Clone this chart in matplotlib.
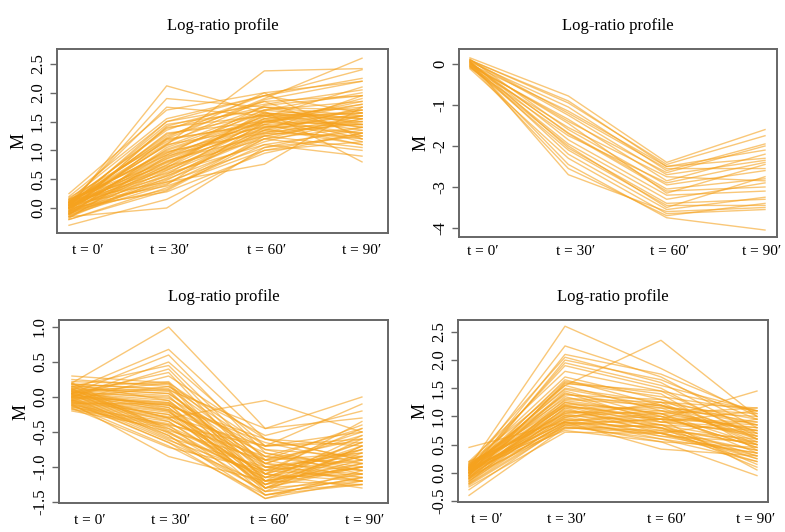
import matplotlib
matplotlib.use("Agg")
import matplotlib.pyplot as plt
import numpy as np

plt.rcParams['font.family'] = ['Liberation Serif', 'DejaVu Serif']

# time points and their labels
times = [1, 2, 3, 4]
time_labels = ["t = 0′", "t = 30′", "t = 60′", "t = 90′"]

# cluster 1: rising profiles (M at t=0,30,60,90)
profiles_a = [
    [0.00, 2.12, 1.65, 1.55], [0.05, 1.90, 1.75, 1.45], [0.10, 1.75, 1.60, 1.20],
    [0.25, 1.70, 2.00, 2.20], [0.00, 1.10, 2.38, 2.42], [0.10, 1.20, 1.90, 2.60],
    [-0.10, 0.45, 0.76, 1.75], [-0.15, 0.00, 1.05, 1.40], [-0.30, 0.15, 1.00, 1.30],
    [-0.20, 0.30, 1.20, 1.00], [0.20, 1.55, 1.95, 2.40], [0.15, 1.50, 1.80, 2.05],
    [0.05, 1.45, 1.70, 1.85], [-0.05, 1.40, 1.60, 1.65], [0.12, 1.35, 1.95, 2.25],
    [0.00, 1.30, 1.50, 1.30], [0.08, 1.25, 1.85, 1.95], [-0.08, 1.20, 1.45, 1.10],
    [0.18, 1.15, 1.75, 1.70], [0.02, 1.10, 1.40, 1.60], [-0.12, 1.05, 1.65, 1.50],
    [0.06, 1.00, 1.55, 1.80], [0.10, 0.98, 1.30, 1.25], [-0.02, 0.95, 1.70, 2.00],
    [0.14, 0.92, 1.50, 1.45], [-0.18, 0.90, 1.35, 1.65], [0.04, 0.88, 1.60, 1.35],
    [0.00, 0.85, 1.45, 1.90], [-0.06, 0.82, 1.25, 1.55], [0.16, 0.80, 1.55, 1.15],
    [0.03, 0.78, 1.40, 1.70], [-0.10, 0.75, 1.65, 1.40], [0.07, 0.72, 1.20, 1.60],
    [-0.04, 0.70, 1.50, 1.85], [0.11, 0.68, 1.35, 1.20], [-0.14, 0.65, 1.45, 1.50],
    [0.00, 0.62, 1.30, 1.75], [0.09, 0.60, 1.10, 1.35], [-0.07, 0.58, 1.55, 1.65],
    [0.05, 0.55, 1.25, 1.05], [-0.16, 0.52, 1.40, 1.45], [0.02, 0.50, 1.15, 1.55],
    [-0.09, 0.48, 1.35, 1.95], [0.13, 0.45, 1.05, 1.25], [-0.03, 0.42, 1.20, 1.40],
    [-0.12, 0.40, 1.50, 1.70], [0.06, 0.38, 1.00, 1.15], [-0.20, 0.35, 1.10, 0.90],
    [-0.05, 0.32, 1.25, 1.50], [0.00, 0.28, 0.95, 1.30], [0.10, 1.38, 1.75, 1.60],
    [0.04, 1.28, 1.62, 1.40], [-0.02, 1.18, 1.48, 1.80], [0.08, 1.08, 1.70, 1.55],
    [-0.10, 1.02, 1.58, 2.10], [0.12, 0.96, 1.42, 1.30], [0.00, 0.86, 1.52, 1.60],
    [-0.08, 0.80, 1.38, 1.10], [0.15, 0.74, 1.62, 1.75], [0.05, 0.66, 1.32, 1.45],
    [-0.15, 0.56, 1.28, 1.60], [0.03, 1.50, 1.95, 1.65], [-0.06, 1.42, 1.85, 1.25],
    [0.09, 1.12, 1.88, 2.20], [0.01, 0.92, 1.78, 1.95], [-0.11, 0.70, 1.68, 0.80],
    [0.07, 1.22, 2.00, 1.20],
]

# cluster 2: strongly falling profiles
profiles_b = [
    [0.15, -0.78, -2.40, -1.60], [0.10, -0.95, -2.45, -1.75], [0.05, -1.05, -2.60, -1.95],
    [0.00, -1.15, -2.50, -2.10], [0.08, -1.25, -2.70, -2.35], [-0.05, -1.35, -2.85, -2.20],
    [0.02, -1.45, -3.15, -2.45], [-0.08, -1.55, -2.75, -2.85], [0.12, -1.60, -2.95, -2.60],
    [0.00, -1.68, -3.05, -2.80], [-0.10, -1.75, -2.90, -2.40], [0.05, -1.85, -3.20, -3.10],
    [-0.03, -1.95, -3.30, -2.90], [0.07, -2.05, -3.40, -3.30], [-0.06, -2.10, -3.45, -3.45],
    [0.03, -2.20, -3.55, -3.25], [-0.12, -2.30, -3.65, -3.55], [0.00, -2.45, -3.75, -4.05],
    [-0.04, -2.55, -3.70, -3.40], [0.06, -2.70, -3.60, -3.50], [0.10, -1.20, -2.55, -2.55],
    [-0.02, -1.40, -2.65, -2.00], [0.04, -1.70, -3.10, -3.00], [-0.07, -2.00, -3.50, -2.75],
    [0.09, -0.90, -2.50, -2.30],
]

# cluster 3: mildly falling profiles
profiles_c = [
    [0.20, 1.00, -0.45, -0.30], [0.10, 0.68, -0.60, -0.70], [0.05, 0.60, -0.80, -1.00],
    [0.00, 0.50, -0.70, -0.50], [0.15, 0.45, -0.90, -0.80], [0.00, 0.40, -1.00, -1.10],
    [-0.05, 0.30, -0.60, -0.90], [0.05, -0.30, -0.05, -0.50], [0.10, 0.10, -0.45, 0.00],
    [-0.10, -0.85, -1.20, -1.00], [0.30, 0.20, -0.70, -0.10], [0.25, 0.15, -0.55, -0.20],
    [0.22, 0.18, -1.30, -1.20], [0.18, 0.12, -0.85, -0.45], [0.15, 0.08, -1.10, -0.75],
    [0.12, 0.05, -0.95, -1.05], [0.10, 0.02, -1.25, -0.60], [0.08, -0.02, -0.75, -0.85],
    [0.06, -0.05, -1.05, -1.15], [0.05, -0.08, -0.90, -0.40], [0.03, -0.10, -1.35, -1.25],
    [0.02, -0.12, -0.65, -0.95], [0.00, -0.15, -1.15, -0.70], [-0.02, -0.18, -0.80, -1.10],
    [-0.04, -0.20, -1.20, -0.55], [-0.05, -0.22, -1.00, -0.80], [-0.07, -0.25, -1.30, -1.00],
    [-0.08, -0.28, -0.70, -0.65], [-0.10, -0.30, -1.10, -1.20], [-0.12, -0.32, -0.95, -0.50],
    [-0.14, -0.35, -1.25, -0.90], [-0.15, -0.38, -0.85, -1.05], [-0.17, -0.40, -1.40, -1.15],
    [-0.18, -0.42, -1.05, -0.75], [-0.20, -0.45, -1.20, -1.25], [0.20, -0.48, -0.90, -0.60],
    [0.16, -0.50, -1.30, -0.95], [0.12, -0.52, -1.15, -1.10], [0.08, -0.55, -1.45, -1.20],
    [0.04, -0.58, -1.00, -0.85], [0.00, -0.60, -1.35, -0.70], [-0.04, -0.62, -1.10, -1.30],
    [-0.08, -0.65, -1.25, -1.00], [-0.12, -0.70, -1.40, -1.15], [-0.16, -0.72, -1.05, -0.90],
    [0.14, 0.22, -0.95, -0.55], [0.06, 0.20, -1.20, -0.85], [-0.02, 0.15, -0.75, -1.05],
    [0.18, -0.05, -1.15, -0.65], [0.09, -0.15, -1.30, -0.80], [-0.06, -0.25, -0.90, -1.15],
    [0.01, -0.35, -1.20, -0.95], [0.11, -0.45, -1.05, -0.45], [-0.03, -0.55, -1.35, -1.10],
    [0.07, 0.00, -1.00, -1.20], [-0.09, -0.10, -1.25, -0.75], [0.13, 0.05, -0.85, -0.95],
    [0.04, -0.20, -1.40, -1.25], [-0.11, -0.40, -0.70, -0.60], [0.02, -0.30, -1.10, -0.35],
    [0.19, 0.10, -1.20, -1.00], [-0.01, -0.08, -0.95, -1.20], [0.08, -0.18, -1.30, -0.70],
    [-0.13, -0.50, -1.15, -0.85], [0.05, 0.35, -1.10, -0.65], [-0.06, -0.65, -1.45, -1.05],
    [0.03, -0.12, -0.60, -0.90],
]

# cluster 4: transient peak at t=30
profiles_d = [
    [0.10, 2.60, 1.85, 1.00], [0.05, 2.25, 1.70, 0.80], [0.00, 2.10, 1.75, 1.05],
    [0.15, 2.05, 1.60, 0.70], [-0.05, 2.00, 1.65, 0.95], [0.08, 1.90, 1.50, 0.60],
    [0.00, 1.55, 2.35, 1.00], [0.10, 1.20, 0.95, 1.45], [0.45, 0.90, 0.80, 0.50],
    [-0.40, 0.80, 0.70, 0.40], [-0.20, 0.85, 0.55, -0.05], [0.05, 0.90, 0.42, 0.30],
    [0.20, 1.80, 1.45, 1.10], [0.12, 1.70, 1.30, 0.85], [0.00, 1.65, 1.20, 0.55],
    [-0.10, 1.60, 1.35, 1.10], [0.18, 1.55, 1.10, 0.75], [0.06, 1.50, 1.25, 0.95],
    [-0.05, 1.45, 1.00, 0.45], [0.14, 1.40, 1.15, 1.05], [0.02, 1.35, 0.95, 0.65],
    [-0.12, 1.30, 1.20, 0.85], [0.10, 1.28, 1.05, 0.35], [-0.02, 1.25, 0.90, 0.70],
    [0.16, 1.22, 1.10, 1.00], [-0.08, 1.20, 0.85, 0.55], [0.04, 1.18, 1.00, 0.80],
    [-0.15, 1.15, 1.15, 0.60], [0.08, 1.12, 0.80, 0.25], [0.00, 1.10, 0.95, 0.90],
    [-0.18, 1.08, 1.05, 0.50], [0.12, 1.05, 0.75, 0.40], [-0.06, 1.02, 0.90, 1.10],
    [0.03, 1.00, 1.10, 0.65], [-0.10, 0.98, 0.70, 0.20], [0.20, 0.95, 0.85, 0.75],
    [-0.03, 0.92, 1.00, 0.45], [0.07, 0.90, 0.65, 0.55], [-0.14, 0.88, 0.80, 0.10],
    [0.01, 0.85, 0.95, 0.85], [-0.22, 0.82, 0.60, 0.35], [0.09, 0.80, 0.75, 0.60],
    [-0.07, 0.78, 0.85, 0.15], [0.05, 0.75, 0.55, 0.45], [-0.25, 0.72, 0.70, 0.30],
    [0.13, 1.32, 1.25, 0.50], [-0.04, 1.42, 0.90, 0.80], [0.06, 1.62, 1.40, 0.40],
    [-0.09, 1.15, 0.70, 0.95], [0.17, 1.05, 1.20, 0.70], [0.00, 0.95, 0.60, 0.20],
    [-0.16, 1.25, 1.05, 1.15], [0.11, 1.38, 1.30, 0.60], [-0.01, 1.08, 0.85, 0.30],
    [0.04, 0.98, 1.25, 1.15], [-0.11, 0.88, 0.95, 0.05], [0.09, 1.48, 1.18, 0.90],
    [-0.05, 1.58, 1.45, 0.65], [0.02, 1.95, 1.55, 1.10], [0.14, 1.02, 0.65, 0.35],
    [-0.19, 0.92, 1.05, 0.75], [0.07, 1.18, 0.78, 0.50], [-0.30, 0.85, 0.72, 0.25],
]

W, H = 785, 532
fig = plt.figure(figsize=(W / 100, H / 100), dpi=100)

# (profiles, box in pixels l,r,t,b, xlim, ylim, yticks, ytick labels, x label positions, x label pad)
panels = [
    (profiles_a, (57, 388, 49, 233), (0.877, 4.266), (-0.434, 2.76),
     [0, 0.5, 1, 1.5, 2, 2.5], ["0.0", "0.5", "1.0", "1.5", "2.0", "2.5"],
     [1.19, 2.03, 3.02, 4.0], 8),
    (profiles_b, (459, 777, 49, 237), (0.888, 4.122), (-4.22, 0.366),
     [-4, -3, -2, -1, 0], ["-4", "-3", "-2", "-1", "0"],
     [1.13, 2.07, 3.03, 3.97], 6),
    (profiles_c, (59, 388, 320, 503), (0.866, 4.27), (-1.514, 1.1),
     [-1.5, -1, -0.5, 0, 0.5, 1], ["-1.5", "-1.0", "-0.5", "0.0", "0.5", "1.0"],
     [1.18, 2.02, 3.05, 4.03], 8),
    (profiles_d, (458, 768, 320, 502), (0.885, 4.115), (-0.518, 2.71),
     [-0.5, 0, 0.5, 1, 1.5, 2, 2.5], ["-0.5", "0.0", "0.5", "1.0", "1.5", "2.0", "2.5"],
     [1.19, 2.02, 3.06, 3.99], 8),
]

for profs, (l, r, t, b), xl, yl, yt, ytl, xpos, xpad in panels:
    ax = fig.add_axes([l / W, 1 - b / H, (r - l) / W, (b - t) / H])
    for row in profs:
        ax.plot(times, row, color="#F5A21E", alpha=0.6, lw=1.0)
    ax.set_xlim(*xl)
    ax.set_ylim(*yl)
    ax.set_yticks(yt)
    ax.set_yticklabels(ytl, rotation=90, va="center", fontsize=12)
    ax.set_xticks(xpos)
    ax.set_xticklabels(time_labels, fontsize=11)
    ax.tick_params(axis="x", length=0, pad=xpad)
    ax.tick_params(axis="y", length=5, width=1, color="#666666", pad=3)
    for sp in ax.spines.values():
        sp.set_color("#666666")
        sp.set_linewidth(1.4)
    ax.set_ylabel("M", fontsize=13, labelpad=2)
    ax.set_title("Log-ratio profile", fontsize=12, pad=14)

fig.savefig("out.png", dpi=100)
